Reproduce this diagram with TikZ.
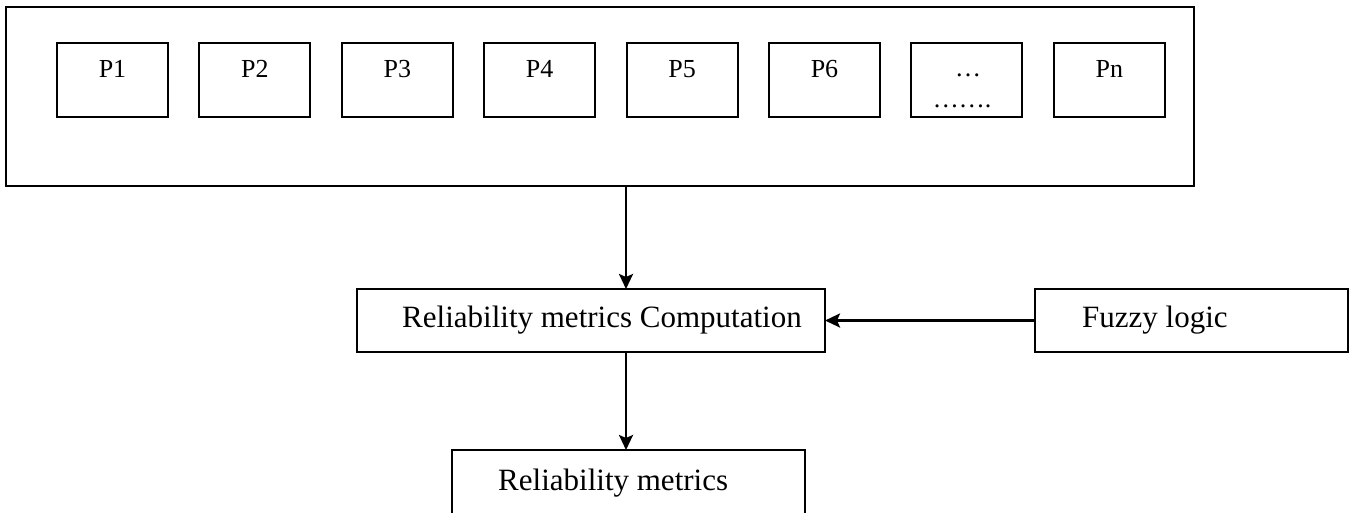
\documentclass[tikz,border=0pt]{standalone}
\usepackage{fontspec}
\setmainfont{Liberation Serif}
\usetikzlibrary{arrows.meta}
\begin{document}
\begin{tikzpicture}[x=1pt,y=-1pt,
  box/.style={draw,line width=2pt,inner sep=0pt,outer sep=0pt,rectangle},
  pbox/.style={box,minimum width=111pt,minimum height=74pt},
  ptext/.style={anchor=base,inner sep=0pt,font=\fontsize{26}{30}\selectfont},
  btext/.style={anchor=base west,inner sep=0pt,font=\fontsize{31}{36}\selectfont},
  arr/.style={line width=2.6pt,-{Stealth[length=15pt,width=14pt,inset=3pt]}}]
\useasboundingbox (0,0) rectangle (1351,512);
\clip (0,0) rectangle (1351,512);
% outer container
\node[box,minimum width=1188pt,minimum height=179pt] (outer) at (600,96.5) {};
% process boxes
\foreach \i/\t in {0/P1,1/P2,2/P3,3/P4,4/P5,5/P6,7/Pn}{
  \node[pbox] (p\i) at (112.5+142.4*\i,80) {};
  \node[ptext] (t\i) at (112.5+142.4*\i,77) {\t};
}
\node[pbox] (p6) at (112.5+142.4*6,80) {};
\node[ptext] (t6a) at (968,76) {…};
\node[ptext] (t6b) at (962,107) {…….};
% computation
\node[box,minimum width=468pt,minimum height=63pt] (comp) at (591,320.5) {};
\node[btext] (compt) at (402,327) {Reliability metrics Computation};
% fuzzy
\node[box,minimum width=313pt,minimum height=63pt] (fuzzy) at (1191.5,320.5) {};
\node[btext] (fuzzyt) at (1082,327) {Fuzzy logic};
% result
\node[box,minimum width=353pt,minimum height=90pt] (rel) at (628.5,495) {};
\node[btext] (relt) at (498,490) {Reliability metrics};
% connectors
\coordinate (ax) at (626,0);
\draw[arr] (outer.south -| ax) -- (comp.north -| ax);
\draw[arr] (comp.south -| ax) -- (rel.north -| ax);
\draw[arr] (fuzzy.west) -- (comp.east);
\end{tikzpicture}
\end{document}
